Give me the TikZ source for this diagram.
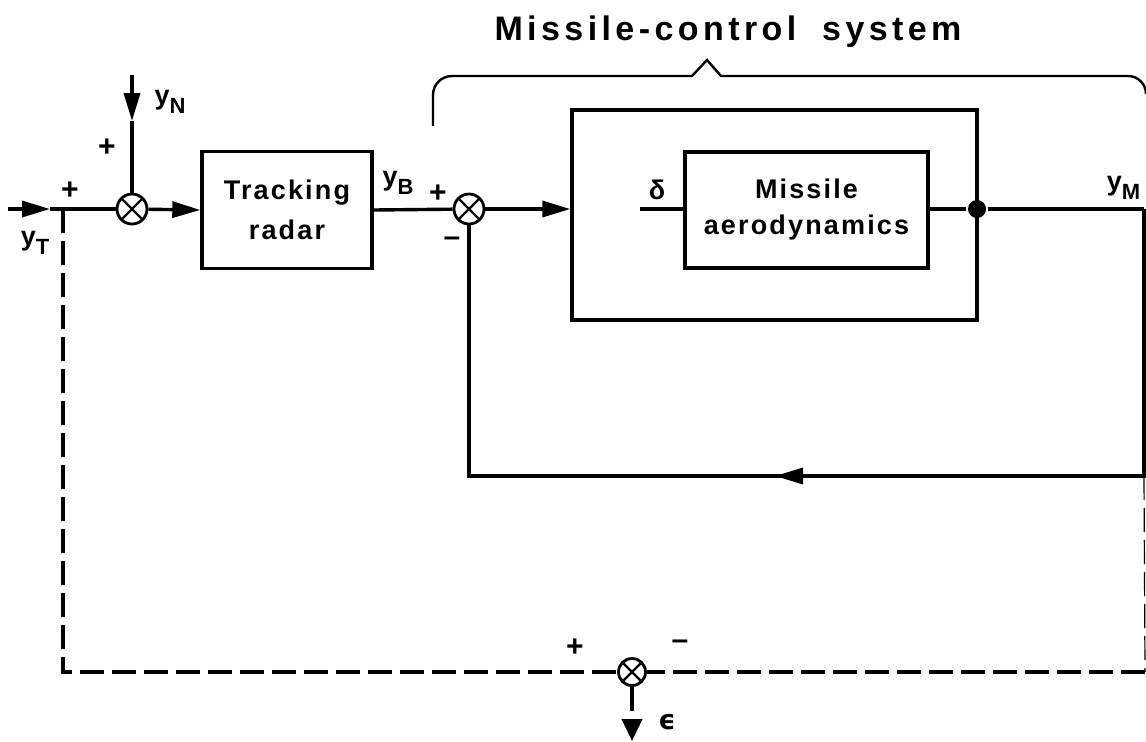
\documentclass[tikz,border=0pt]{standalone}
\usepackage{fontspec}
\setmainfont{Liberation Sans}[LetterSpace=8]
\newfontfamily\dejavu{DejaVu Sans}
\usetikzlibrary{arrows.meta,calc}
\newcommand\sig[2]{#1\raisebox{-0.35em}{\fontsize{11}{11}\selectfont #2}}
\begin{document}
\begin{tikzpicture}[x=0.5pt,y=-0.5pt,
  line width=1.7pt,
  font=\bfseries\fontsize{13.5}{20}\selectfont,
  tip/.style={-{Triangle[length=14pt,width=8pt]}},
  sumj/.style={circle,draw,line width=1.4pt,minimum size=15pt,inner sep=0pt,
    path picture={\draw[line width=1.2pt]
      (path picture bounding box.north west)--(path picture bounding box.south east)
      (path picture bounding box.north east)--(path picture bounding box.south west);}},
  block/.style={draw,align=center,inner sep=0pt},
  lbl/.style={inner sep=0pt},
  sgn/.style={inner sep=0pt,font=\bfseries\fontsize{15}{15}\selectfont},
  fb/.style={dash pattern=on 12pt off 4pt,line width=1.8pt}]
\useasboundingbox (0,0) rectangle (1146,741);

% nodes
\node[sumj] (s1) at (132,209) {};
\node[sumj] (s2) at (469,209) {};
\node[sumj,minimum size=13.5pt] (s3) at (632,672) {};
\node[block,minimum width=85pt,minimum height=58.5pt] (radar) at (287,210) {Tracking\\radar};
\node[draw,minimum width=202.5pt,minimum height=105pt,inner sep=0pt] (outer) at (774.5,215) {};
\node[block,minimum width=121.5pt,minimum height=58pt,font=\bfseries\fontsize{13.5}{18}\selectfont] (aero) at (806.5,210) {Missile\\aerodynamics};
\node[circle,fill,inner sep=0pt,minimum size=9pt] (dot) at (977,209) {};

% coordinates
\coordinate (in) at (8,209);
\coordinate (inA) at (50,209);
\coordinate (tap) at (63,209);
\coordinate (ntop) at (132,75);
\coordinate (nA) at (132,121);
\coordinate (dl) at (640,209);
\coordinate (rEnd) at (1144,209);
\coordinate (rB) at (1144,476);
\coordinate (fbA) at (775,476);
\coordinate (lB) at (469,476);
\coordinate (rD) at (1145,672);
\coordinate (lD) at (63,672);
\coordinate (eps) at (632,741);

% forward path
\draw[tip] (in) -- (inA);
\draw (inA) -- (s1);
\draw[tip] (ntop) -- (nA);
\draw (nA) -- (s1);
\draw[tip] (s1) -- (radar.west);
\draw (radar.east) -- (s2);
\draw[tip] (s2) -- (outer.west |- s2);
\draw (dl) -- (aero.west |- dl);
\draw (aero.east |- dot) -- (dot) -- (rEnd);

% feedback
\draw (rEnd) -- (rB) -- (fbA);
\draw[tip] (rB) -- (fbA);
\draw (fbA) -- (lB) -- (s2);

% dashed error path
\draw[fb] (tap) -- (lD) -- (s3);
\draw[fb,line width=0.6pt] (rB) -- (rD);
\draw[fb] (rD) -- (s3);
\draw[fb,-{Triangle[length=11pt,width=10pt]}] (s3) -- (eps);

% brace
\draw[line width=1.2pt] (433,126) -- (433,95) to[out=90,in=180] (452,76) -- (692,76) -- (707,60) -- (721,76) -- (1128,76) to[out=0,in=90] (1146,94);

% labels
\node[lbl,font=\bfseries\fontsize{17}{18}\selectfont\addfontfeature{LetterSpace=13}] (title) at (728,32) {Missile-control\hspace{6pt} system};
\node[sgn] (pT) at (70,191) {+};
\node[lbl] (yT) at (35,243) {\sig{y}{T}};
\node[sgn] (pN) at (107,148) {+};
\node[lbl] (yN) at (170,102) {\sig{y}{N}};
\node[lbl] (yB) at (398,183) {\sig{y}{B}};
\node[sgn] (pB) at (438,194) {+};
\node[sgn] (mB) at (452,242) {–};
\node[lbl] (del) at (657,190) {δ};
\node[lbl,anchor=east] (yM) at (1142,188) {\sig{y}{M}};
\node[sgn] (pE) at (575,648) {+};
\node[sgn] (mE) at (680,645) {–};
\node[lbl] (eL) at (667,722) {\dejavu\bfseries ϵ};
\end{tikzpicture}
\end{document}
